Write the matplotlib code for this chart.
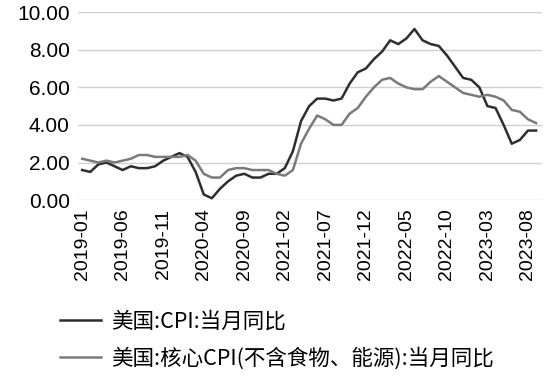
import numpy as np
import pandas as pd
import matplotlib
matplotlib.use("Agg")
import matplotlib.pyplot as plt

# 月度数据 2019-01 ~ 2023-09
months = pd.period_range("2019-01", "2023-09", freq="M").strftime("%Y-%m").tolist()

cpi = [1.6, 1.5, 1.9, 2.0, 1.8, 1.6, 1.8, 1.7, 1.7, 1.8, 2.1, 2.3,
       2.5, 2.3, 1.5, 0.3, 0.1, 0.6, 1.0, 1.3, 1.4, 1.2, 1.2, 1.4,
       1.4, 1.7, 2.6, 4.2, 5.0, 5.4, 5.4, 5.3, 5.4, 6.2, 6.8, 7.0,
       7.5, 7.9, 8.5, 8.3, 8.6, 9.1, 8.5, 8.3, 8.2, 7.7, 7.1, 6.5,
       6.4, 6.0, 5.0, 4.9, 4.0, 3.0, 3.2, 3.7, 3.7]

core = [2.2, 2.1, 2.0, 2.1, 2.0, 2.1, 2.2, 2.4, 2.4, 2.3, 2.3, 2.3,
        2.3, 2.4, 2.1, 1.4, 1.2, 1.2, 1.6, 1.7, 1.7, 1.6, 1.6, 1.6,
        1.4, 1.3, 1.6, 3.0, 3.8, 4.5, 4.3, 4.0, 4.0, 4.6, 4.9, 5.5,
        6.0, 6.4, 6.5, 6.2, 6.0, 5.9, 5.9, 6.3, 6.6, 6.3, 6.0, 5.7,
        5.6, 5.5, 5.6, 5.5, 5.3, 4.8, 4.7, 4.3, 4.1]

labels = ["美国:CPI:当月同比", "美国:核心CPI(不含食物、能源):当月同比"]

fig = plt.figure(figsize=(5.5, 3.79), dpi=100)
ax = fig.add_axes([0.142, 0.472, 0.843, 0.496])

x = np.arange(len(months))
ax.plot(x, cpi, color="#2e2e2e", lw=1.8, label=labels[0])
ax.plot(x, core, color="#7a7a7a", lw=1.8, label=labels[1])

ax.set_ylim(0, 10)
ax.set_xlim(-0.5, len(months) - 0.3)
ax.set_yticks(np.arange(0, 11, 2))
ax.set_yticklabels([f"{v:.2f}" for v in np.arange(0, 11, 2)],
                   fontfamily="Liberation Sans", fontsize=15)
ax.set_xticks(x[::5])
ax.set_xticklabels(months[::5], rotation=90, fontfamily="Liberation Sans",
                   fontsize=14)
ax.tick_params(length=0, pad=6)
ax.grid(axis="y", color="#d0d0d0", lw=1)
ax.set_axisbelow(True)
for s in ax.spines.values():
    s.set_visible(False)

fig.legend(loc="upper left", bbox_to_anchor=(60 / 550, 1 - 311 / 379),
           frameon=False, borderpad=0, borderaxespad=0,
           handlelength=1.9, handletextpad=0.45, labelspacing=0.65,
           prop={"family": ["Noto Sans CJK SC", "DejaVu Sans"], "size": 15.5})

fig.savefig("out.png", dpi=100)
